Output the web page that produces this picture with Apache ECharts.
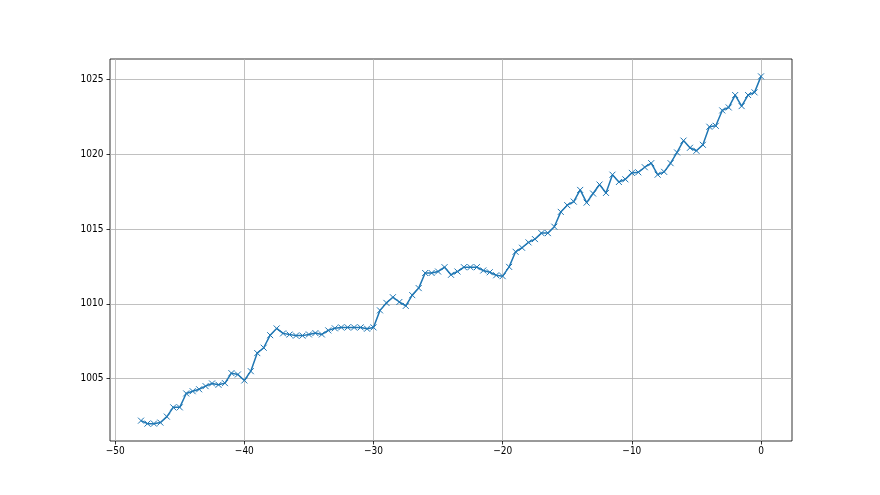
<!DOCTYPE html>
<html><head><meta charset="utf-8">
<script src="https://cdn.jsdelivr.net/npm/echarts@6/dist/echarts.min.js"></script>
<style>html,body{margin:0;padding:0;background:#fff}#c{width:880px;height:495px}</style>
</head><body><div id="c"></div>
<script>
const xStart = -48, xStep = 0.5;
const values = [
1002.18,1001.98,1001.98,1002.05,1002.45,1003.07,1003.07,1004.00,1004.15,1004.28,
1004.49,1004.67,1004.58,1004.69,1005.36,1005.27,1004.87,1005.49,1006.70,1007.06,
1007.90,1008.35,1008.02,1007.94,1007.87,1007.87,1007.95,1008.04,1007.95,1008.22,
1008.36,1008.42,1008.42,1008.42,1008.42,1008.33,1008.42,1009.56,1010.06,1010.44,
1010.12,1009.86,1010.58,1011.05,1012.06,1012.06,1012.16,1012.45,1011.94,1012.16,
1012.45,1012.45,1012.45,1012.23,1012.11,1011.91,1011.85,1012.47,1013.48,1013.75,
1014.11,1014.33,1014.73,1014.73,1015.16,1016.15,1016.60,1016.84,1017.62,1016.77,
1017.38,1017.98,1017.42,1018.64,1018.15,1018.33,1018.76,1018.80,1019.14,1019.41,
1018.64,1018.83,1019.41,1020.13,1020.92,1020.44,1020.24,1020.64,1021.85,1021.91,
1022.94,1023.14,1023.97,1023.23,1023.97,1024.15,1025.22
];
const xTicks = [-50, -40, -30, -20, -10, 0];
const yTicks = [1005, 1010, 1015, 1020, 1025];

const xs = values.map((v, i) => xStart + i * xStep);
const data = values.map((v, i) => [xs[i], v]);
const xMin = Math.min(...xs), xMax = Math.max(...xs);
const yMin = Math.min(...values), yMax = Math.max(...values);
const xPad = (xMax - xMin) * 0.05, yPad = (yMax - yMin) * 0.05;
const fmt = v => String(v).replace('-', '\u2212');
const font = '"Liberation Sans Narrow", "DejaVu Sans Condensed", sans-serif';

const chart = echarts.init(document.getElementById('c'), null, {renderer: 'canvas'});
chart.setOption({
  animation: false,
  backgroundColor: '#fff',
  grid: {left: 110, right: 88, top: 59, bottom: 54, show: true, borderColor: '#000', borderWidth: 0.8, backgroundColor: 'transparent'},
  xAxis: {
    type: 'value', min: xMin - xPad, max: xMax + xPad,
    axisLine: {show: false, onZero: false},
    axisTick: {show: true, length: 3.5, inside: false, lineStyle: {color: '#000', width: 0.8}, customValues: xTicks},
    axisLabel: {color: '#000', fontFamily: font, fontSize: 10, margin: 5, formatter: fmt, customValues: xTicks, showMinLabel: true, showMaxLabel: true},
    splitLine: {show: true, showMinLine: true, showMaxLine: true, lineStyle: {color: '#b0b0b0', width: 0.8}}
  },
  yAxis: {
    type: 'value', min: yMin - yPad, max: yMax + yPad,
    axisLine: {show: false, onZero: false},
    axisTick: {show: true, length: 3.5, inside: false, lineStyle: {color: '#000', width: 0.8}, customValues: yTicks},
    axisLabel: {color: '#000', fontFamily: font, fontSize: 10, margin: 6.5, formatter: fmt, customValues: yTicks},
    splitLine: {show: true, showMinLine: true, showMaxLine: true, lineStyle: {color: '#b0b0b0', width: 0.8}}
  },
  series: [{
    type: 'line', data: data,
    lineStyle: {color: '#1f77b4', width: 1.5},
    symbol: 'path://M0,0L10,10M10,0L0,10', symbolSize: 6,
    itemStyle: {color: 'none', borderColor: '#1f77b4', borderWidth: 1},
    z: 3
  }]
});
</script></body></html>
